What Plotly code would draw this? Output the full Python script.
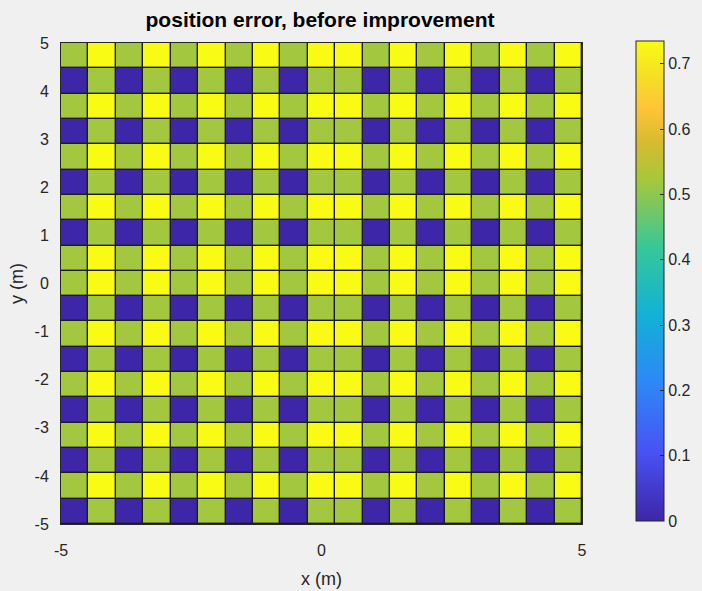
import numpy as np
import plotly.graph_objects as go

# Grid nodes (m); the pcolor-style cells span between consecutive nodes
x_nodes = np.linspace(-5, 5, 20)
y_nodes = np.linspace(-5, 5, 20)

# Position error per cell (m), rows listed from y = -5 (bottom) to y = 5 (top)
error_rows = [
    [0, 0.52, 0, 0.52, 0, 0.52, 0, 0.52, 0, 0.52, 0.52, 0, 0.52, 0, 0.52, 0, 0.52, 0, 0.52],
    [0.52, 0.735, 0.52, 0.735, 0.52, 0.735, 0.52, 0.735, 0.52, 0.735, 0.735, 0.52, 0.735, 0.52, 0.735, 0.52, 0.735, 0.52, 0.735],
    [0, 0.52, 0, 0.52, 0, 0.52, 0, 0.52, 0, 0.52, 0.52, 0, 0.52, 0, 0.52, 0, 0.52, 0, 0.52],
    [0.52, 0.735, 0.52, 0.735, 0.52, 0.735, 0.52, 0.735, 0.52, 0.735, 0.735, 0.52, 0.735, 0.52, 0.735, 0.52, 0.735, 0.52, 0.735],
    [0, 0.52, 0, 0.52, 0, 0.52, 0, 0.52, 0, 0.52, 0.52, 0, 0.52, 0, 0.52, 0, 0.52, 0, 0.52],
    [0.52, 0.735, 0.52, 0.735, 0.52, 0.735, 0.52, 0.735, 0.52, 0.735, 0.735, 0.52, 0.735, 0.52, 0.735, 0.52, 0.735, 0.52, 0.735],
    [0, 0.52, 0, 0.52, 0, 0.52, 0, 0.52, 0, 0.52, 0.52, 0, 0.52, 0, 0.52, 0, 0.52, 0, 0.52],
    [0.52, 0.735, 0.52, 0.735, 0.52, 0.735, 0.52, 0.735, 0.52, 0.735, 0.735, 0.52, 0.735, 0.52, 0.735, 0.52, 0.735, 0.52, 0.735],
    [0, 0.52, 0, 0.52, 0, 0.52, 0, 0.52, 0, 0.52, 0.52, 0, 0.52, 0, 0.52, 0, 0.52, 0, 0.52],
    [0.52, 0.735, 0.52, 0.735, 0.52, 0.735, 0.52, 0.735, 0.52, 0.735, 0.735, 0.52, 0.735, 0.52, 0.735, 0.52, 0.735, 0.52, 0.735],
    [0.52, 0.735, 0.52, 0.735, 0.52, 0.735, 0.52, 0.735, 0.52, 0.735, 0.735, 0.52, 0.735, 0.52, 0.735, 0.52, 0.735, 0.52, 0.735],
    [0, 0.52, 0, 0.52, 0, 0.52, 0, 0.52, 0, 0.52, 0.52, 0, 0.52, 0, 0.52, 0, 0.52, 0, 0.52],
    [0.52, 0.735, 0.52, 0.735, 0.52, 0.735, 0.52, 0.735, 0.52, 0.735, 0.735, 0.52, 0.735, 0.52, 0.735, 0.52, 0.735, 0.52, 0.735],
    [0, 0.52, 0, 0.52, 0, 0.52, 0, 0.52, 0, 0.52, 0.52, 0, 0.52, 0, 0.52, 0, 0.52, 0, 0.52],
    [0.52, 0.735, 0.52, 0.735, 0.52, 0.735, 0.52, 0.735, 0.52, 0.735, 0.735, 0.52, 0.735, 0.52, 0.735, 0.52, 0.735, 0.52, 0.735],
    [0, 0.52, 0, 0.52, 0, 0.52, 0, 0.52, 0, 0.52, 0.52, 0, 0.52, 0, 0.52, 0, 0.52, 0, 0.52],
    [0.52, 0.735, 0.52, 0.735, 0.52, 0.735, 0.52, 0.735, 0.52, 0.735, 0.735, 0.52, 0.735, 0.52, 0.735, 0.52, 0.735, 0.52, 0.735],
    [0, 0.52, 0, 0.52, 0, 0.52, 0, 0.52, 0, 0.52, 0.52, 0, 0.52, 0, 0.52, 0, 0.52, 0, 0.52],
    [0.52, 0.735, 0.52, 0.735, 0.52, 0.735, 0.52, 0.735, 0.52, 0.735, 0.735, 0.52, 0.735, 0.52, 0.735, 0.52, 0.735, 0.52, 0.735],
]

x_ticks = [-5, 0, 5]
x_tick_labels = ["-5", "0", "5"]
y_ticks = [-5, -4, -3, -2, -1, 0, 1, 2, 3, 4, 5]
y_tick_labels = ["-5", "-4", "-3", "-2", "-1", "0", "1", "2", "3", "4", "5"]
cbar_ticks = [0, 0.1, 0.2, 0.3, 0.4, 0.5, 0.6, 0.7]
cbar_tick_labels = ["0", "0.1", "0.2", "0.3", "0.4", "0.5", "0.6", "0.7"]
cbar_max = 0.735

# Parula-like colormap
parula = [
    [0.000, "rgb(62,38,168)"],
    [0.143, "rgb(72,82,244)"],
    [0.286, "rgb(46,135,247)"],
    [0.429, "rgb(18,177,214)"],
    [0.571, "rgb(55,200,151)"],
    [0.714, "rgb(168,199,58)"],
    [0.790, "rgb(215,187,48)"],
    [0.857, "rgb(254,195,56)"],
    [0.930, "rgb(246,224,36)"],
    [1.000, "rgb(249,251,21)"],
]

W, H = 702, 591
ml, mr, mt, mb = 61, 120, 43, 67
plot_w = W - ml - mr
plot_h = H - mt - mb

font_family = "Liberation Sans, Arial, Helvetica, sans-serif"
tick_color = "#262626"

fig = go.Figure(
    go.Heatmap(
        z=error_rows,
        x=x_nodes,
        y=y_nodes,
        colorscale=parula,
        zmin=0,
        zmax=cbar_max,
        xgap=1.4,
        ygap=1.4,
        colorbar=dict(
            x=(636 - ml) / plot_w,
            xanchor="left",
            xpad=0,
            y=(mt + plot_h - 521) / plot_h,
            yanchor="bottom",
            ypad=0,
            len=(521 - 41) / plot_h,
            lenmode="fraction",
            thickness=28,
            thicknessmode="pixels",
            outlinecolor=tick_color,
            outlinewidth=1,
            ticks="inside",
            ticklen=4,
            tickcolor=tick_color,
            tickvals=cbar_ticks,
            ticktext=cbar_tick_labels,
            tickfont=dict(family=font_family, size=16, color=tick_color),
        ),
        hoverongaps=False,
    )
)

fig.update_layout(
    width=W,
    height=H,
    margin=dict(l=ml, r=mr, t=mt, b=mb, autoexpand=False),
    paper_bgcolor="#f0f0f0",
    plot_bgcolor="#1c1c1c",
    font=dict(family=font_family, color=tick_color),
    title=dict(
        text="<b>position error, before improvement</b>",
        x=(320 - ml) / plot_w,
        xref="paper",
        xanchor="center",
        y=1 - 20 / H,
        yref="container",
        yanchor="middle",
        font=dict(family=font_family, size=21, color="#000000"),
    ),
    showlegend=False,
)

fig.update_xaxes(
    range=[-5, 5],
    tickvals=x_ticks,
    ticktext=x_tick_labels,
    ticks="",
    ticklabelstandoff=12,
    tickfont=dict(size=16, color=tick_color),
    showgrid=False,
    zeroline=False,
    showline=True,
    linecolor=tick_color,
    linewidth=1,
    mirror=True,
    automargin=False,
    title=dict(text="x (m)", font=dict(size=18, color=tick_color), standoff=14),
)
fig.update_yaxes(
    range=[-5, 5],
    tickvals=y_ticks,
    ticktext=y_tick_labels,
    ticks="",
    ticklabelstandoff=8,
    tickfont=dict(size=16, color=tick_color),
    showgrid=False,
    zeroline=False,
    showline=True,
    linecolor=tick_color,
    linewidth=1,
    mirror=True,
    automargin=False,
    title=dict(text="y (m)", font=dict(size=18, color=tick_color), standoff=6),
)

fig.write_html("out.html")
